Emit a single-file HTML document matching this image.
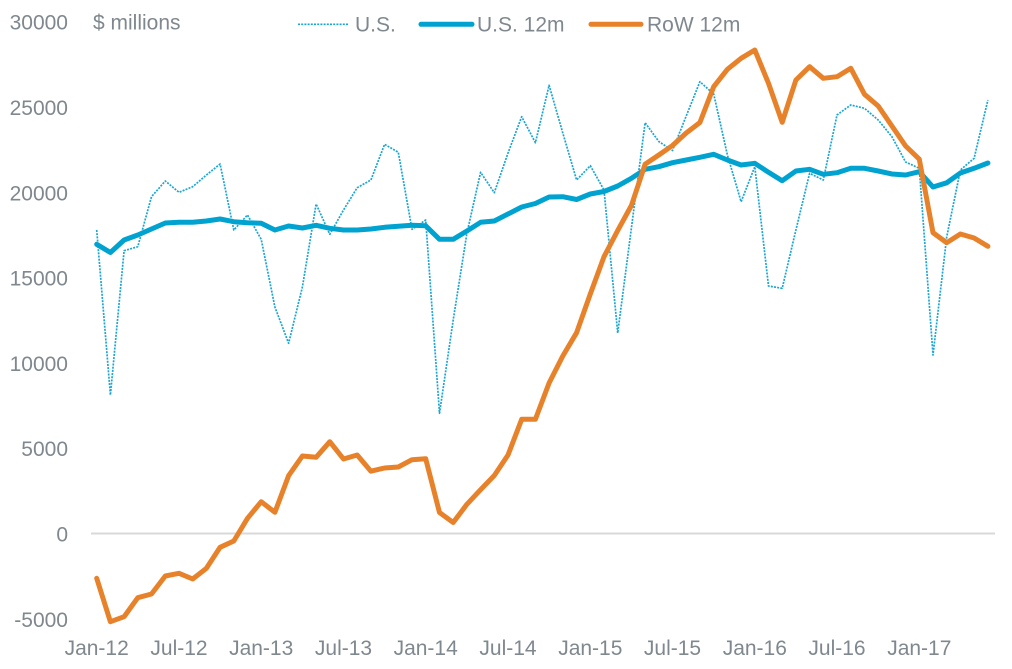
<!DOCTYPE html>
<html>
<head>
<meta charset="utf-8">
<style>
  html, body { margin:0; padding:0; background:#ffffff; }
  svg { display:block; }
  text { font-family: "Liberation Sans", "DejaVu Sans", sans-serif; fill:#7f888e; font-size:21px; }
</style>
</head>
<body>
<svg width="1012" height="669" viewBox="0 0 1012 669" xmlns="http://www.w3.org/2000/svg">
  <rect x="0" y="0" width="1012" height="669" fill="#ffffff"/>

  <!-- zero line -->
  <line x1="91" y1="533.5" x2="995" y2="533.5" stroke="#d9d9d9" stroke-width="2"/>

  <!-- Y axis labels -->
  <g text-anchor="end">
    <text x="68" y="29.3">30000</text>
    <text x="68" y="114.8">25000</text>
    <text x="68" y="200.3">20000</text>
    <text x="68" y="285.3">15000</text>
    <text x="68" y="371">10000</text>
    <text x="68" y="456">5000</text>
    <text x="68" y="541.3">0</text>
    <text x="68" y="626.8">-5000</text>
  </g>

  <!-- X axis labels -->
  <g text-anchor="middle">
    <text x="96.7" y="655">Jan-12</text>
    <text x="179" y="655">Jul-12</text>
    <text x="261.2" y="655">Jan-13</text>
    <text x="343.5" y="655">Jul-13</text>
    <text x="425.7" y="655">Jan-14</text>
    <text x="508" y="655">Jul-14</text>
    <text x="590.3" y="655">Jan-15</text>
    <text x="672.5" y="655">Jul-15</text>
    <text x="754.8" y="655">Jan-16</text>
    <text x="837" y="655">Jul-16</text>
    <text x="919.3" y="655">Jan-17</text>
  </g>

  <!-- units + legend -->
  <text x="93" y="29.5">$ millions</text>
  <line x1="298" y1="24.3" x2="348" y2="24.3" stroke="#1aa6d3" stroke-width="1.7" stroke-dasharray="2 1.2"/>
  <text x="355" y="31.5">U.S.</text>
  <line x1="421" y1="24.3" x2="472" y2="24.3" stroke="#00a2d0" stroke-width="5" stroke-linecap="round"/>
  <text x="477" y="31.5">U.S. 12m</text>
  <line x1="591" y1="24.3" x2="641" y2="24.3" stroke="#e8822a" stroke-width="5" stroke-linecap="round"/>
  <text x="647" y="31.5">RoW 12m</text>

  <!-- U.S. dotted -->
  <polyline fill="none" stroke="#1aa6d3" stroke-width="1.7" stroke-dasharray="2 1.2" stroke-linejoin="round"
    points="96.7,230 110.4,395 124.1,250.7 137.8,246.7 151.5,196.7 165.3,181 179,192.3 192.7,186.7 206.4,175 220.1,164 233.8,230 247.5,215 261.2,239.3 274.9,307 288.6,343.3 302.4,287 316.1,204 329.8,234.3 343.5,210 357.2,187.7 370.9,180 384.6,144.3 398.3,152.3 412,229.3 425.7,220 439.5,413.3 453.2,320 466.9,233.3 480.6,172.3 494.3,192.7 508,153 521.7,116.7 535.4,142.7 549.1,85.3 562.8,133 576.6,180 590.3,165.7 604,190 617.7,333 631.4,228 645.1,122.7 658.8,141.5 672.5,150.5 686.2,116 699.9,81.7 713.7,94 727.4,155 741.1,201.7 754.8,166.7 768.5,286 782.2,288.3 795.9,230 809.6,173.3 823.3,180 837,115 850.8,105 864.5,108.3 878.2,120 891.9,136.7 905.6,162 919.3,168.3 933,355 946.7,237 960.4,170 974.1,158.3 987.9,100"/>

  <!-- U.S. 12m -->
  <polyline fill="none" stroke="#00a2d0" stroke-width="5" stroke-linejoin="round" stroke-linecap="round"
    points="96.7,244.3 110.4,252.5 124.1,240 137.8,235 151.5,229 165.3,223 179,222.3 192.7,222.3 206.4,221 220.1,219 233.8,221.7 247.5,222.7 261.2,223.3 274.9,230 288.6,226 302.4,228 316.1,225.3 329.8,228.3 343.5,230 357.2,230 370.9,229 384.6,227.3 398.3,226.3 412,225.3 425.7,225.8 439.5,239.3 453.2,239.3 466.9,231 480.6,222.3 494.3,221 508,214 521.7,207 535.4,203.5 549.1,197 562.8,196.7 576.6,199.5 590.3,194 604,191.5 617.7,186 631.4,178.3 645.1,169.3 658.8,166.7 672.5,162.7 686.2,160 699.9,157.3 713.7,154.3 727.4,160 741.1,165 754.8,163.3 768.5,172.3 782.2,180.7 795.9,171 809.6,169.3 823.3,174.3 837,172.7 850.8,168.3 864.5,168.3 878.2,171 891.9,174 905.6,175 919.3,171.7 933,187 946.7,182.8 960.4,173 974.1,168.3 987.9,163"/>

  <!-- RoW 12m -->
  <polyline fill="none" stroke="#e8822a" stroke-width="5" stroke-linejoin="round" stroke-linecap="round"
    points="96.7,578.3 110.4,621.7 124.1,616.7 137.8,597.7 151.5,594 165.3,576 179,573.3 192.7,579 206.4,568.3 220.1,547.3 233.8,541 247.5,518.3 261.2,501.7 274.9,512.3 288.6,475.7 302.4,456 316.1,457.3 329.8,441.7 343.5,459 357.2,455 370.9,471.2 384.6,468 398.3,467 412,459.7 425.7,458.8 439.5,512.5 453.2,522.5 466.9,504.3 480.6,489.7 494.3,475.5 508,455 521.7,419.3 535.4,419.2 549.1,383 562.8,356 576.6,332.7 590.3,294 604,256.7 617.7,230.5 631.4,205.5 645.1,164.2 658.8,155 672.5,145.5 686.2,133 699.9,122.5 713.7,86.7 727.4,69.3 741.1,58.3 754.8,50 768.5,83.3 782.2,122.3 795.9,80 809.6,66.7 823.3,78.3 837,76.7 850.8,68.3 864.5,94.3 878.2,106 891.9,126 905.6,146 919.3,159.2 933,232.7 946.7,242.7 960.4,234 974.1,238 987.9,246.3"/>
</svg>
</body>
</html>
